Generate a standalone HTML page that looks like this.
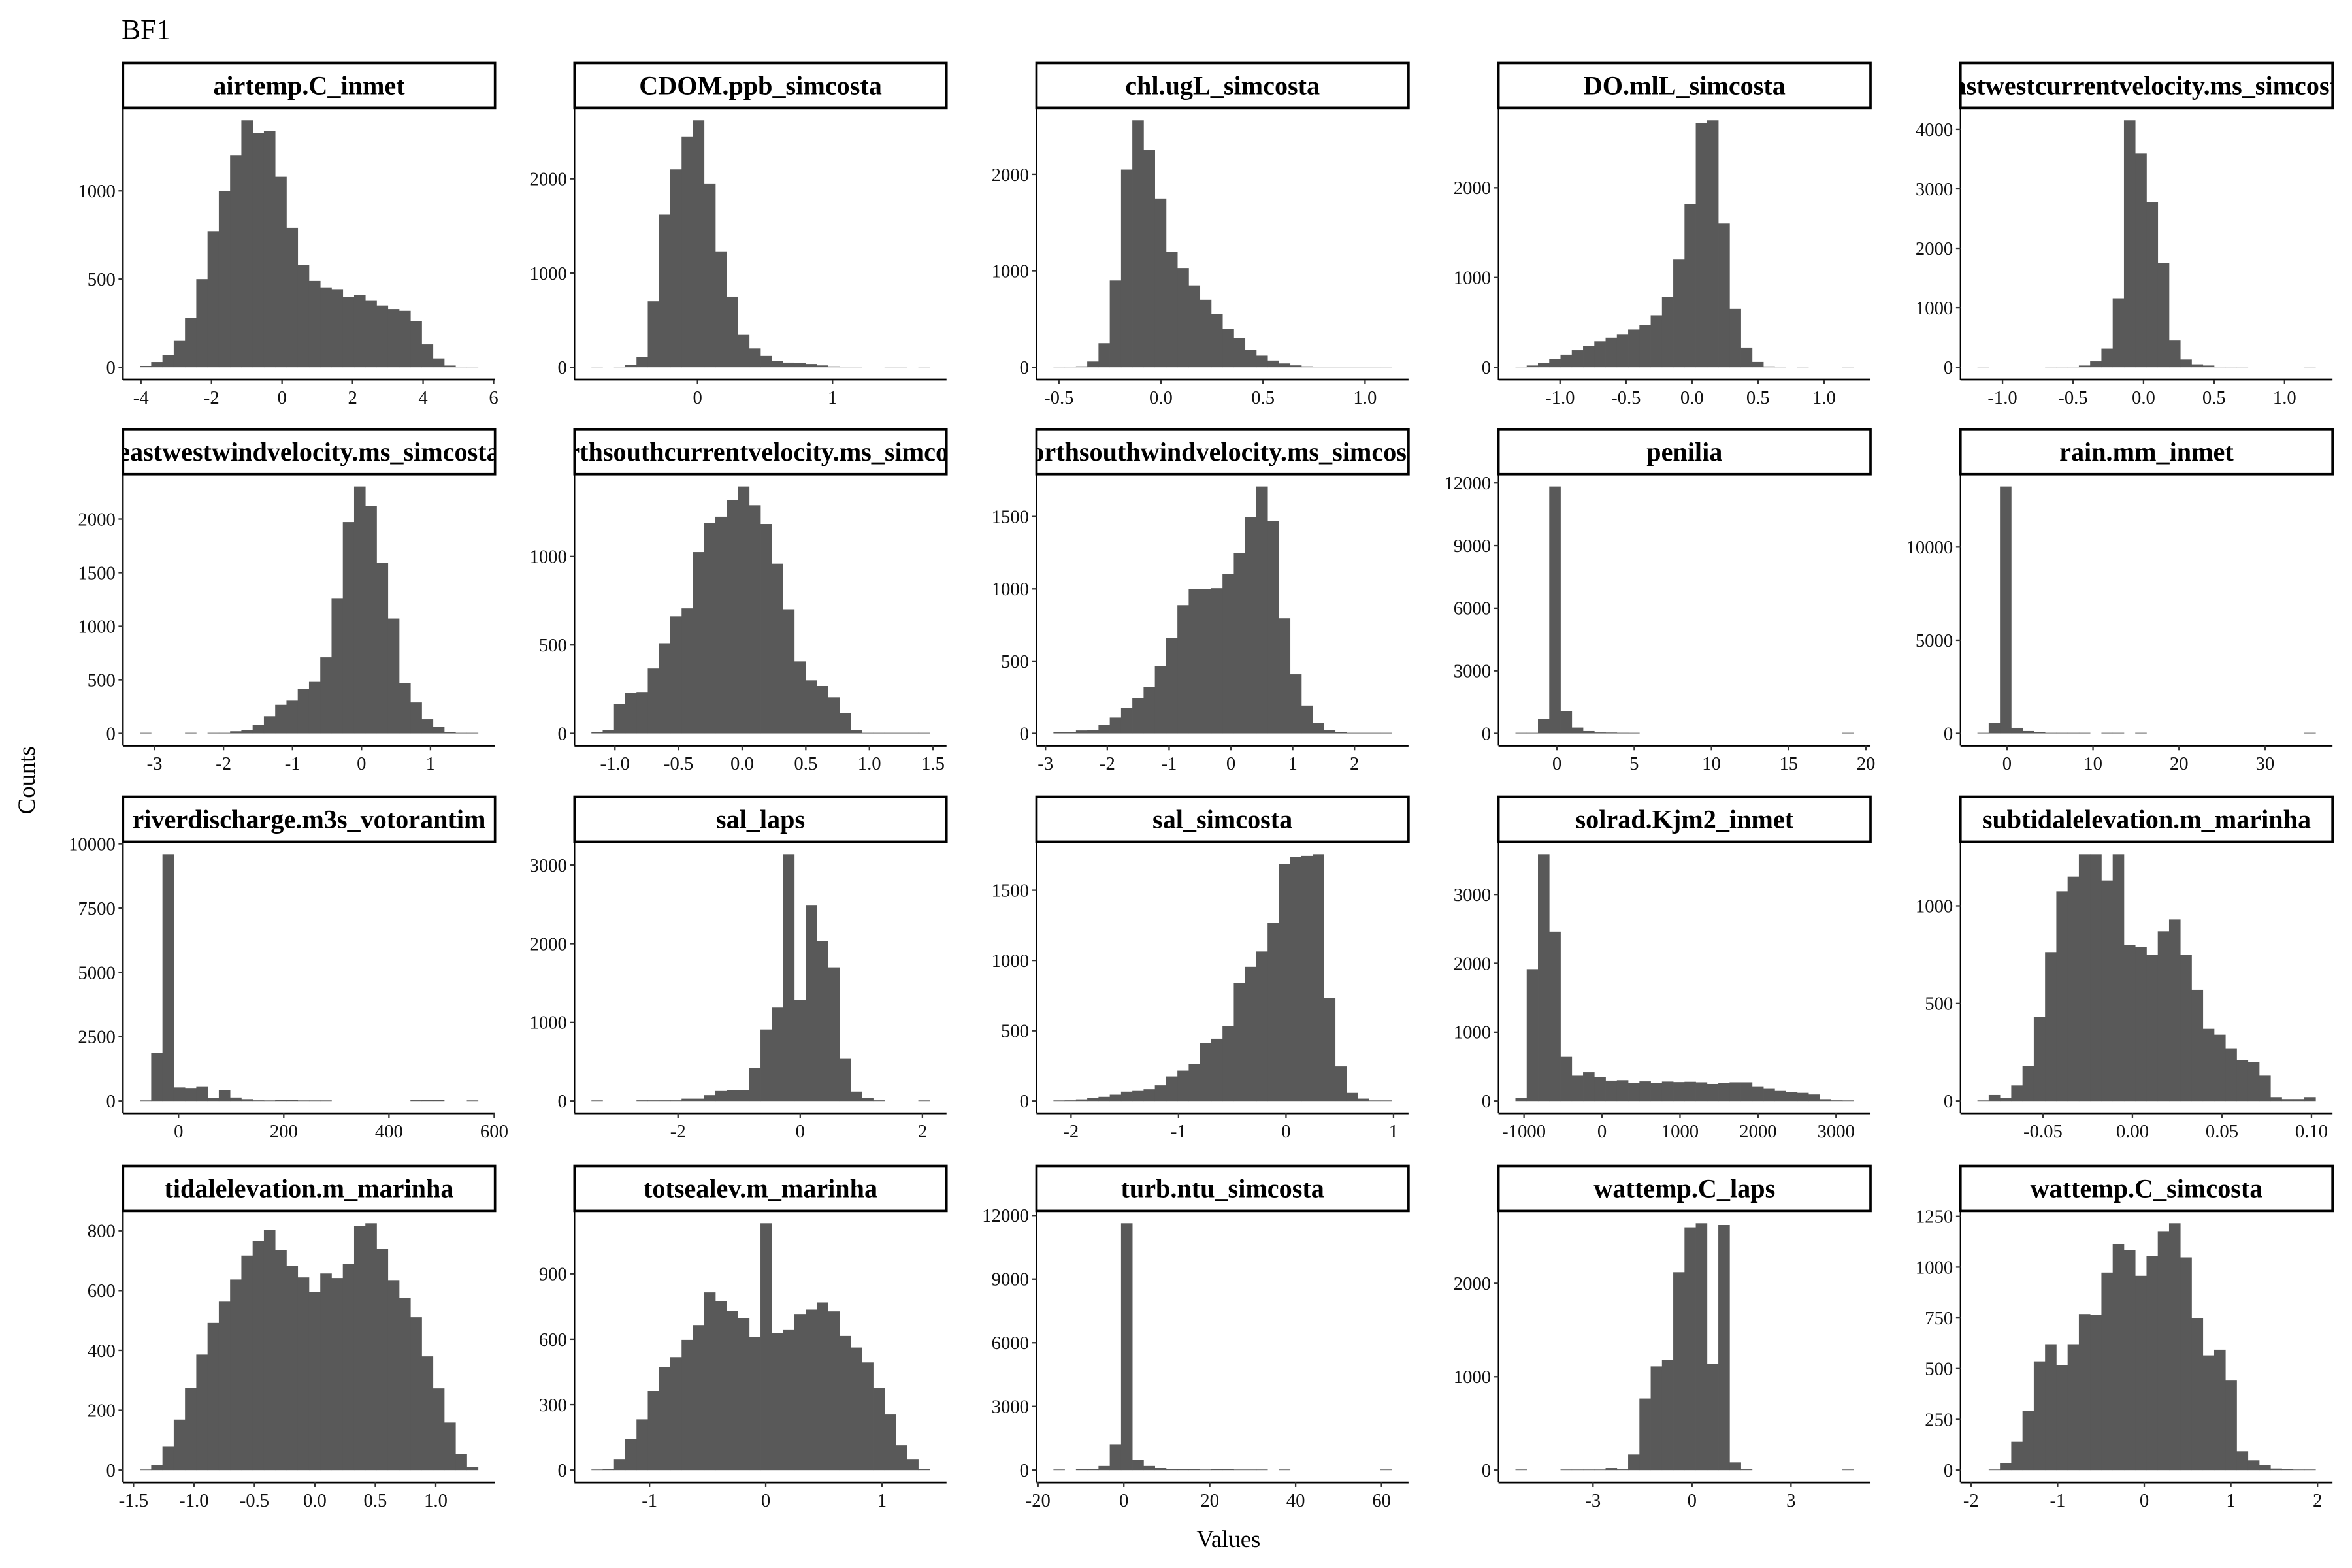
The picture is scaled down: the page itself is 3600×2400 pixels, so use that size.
<!DOCTYPE html>
<html><head><meta charset="utf-8">
<style>
html,body{margin:0;padding:0;background:#fff;}
svg{display:block;}
text{font-family:"Liberation Serif",serif;}
</style></head>
<body>
<svg id="chart" xmlns="http://www.w3.org/2000/svg" width="3600" height="2400" viewBox="0 0 1568 1045" preserveAspectRatio="none">
<rect x="0" y="0" width="1568" height="1045" fill="#fff"/>
<text x="81" y="26" font-size="19">BF1</text>
<text x="0" y="0" font-size="16" text-anchor="middle" transform="translate(23,520) rotate(-90)">Counts</text>
<text x="819" y="1031" font-size="16" text-anchor="middle">Values</text>
<g id="panels"></g>
</svg>
<script>
const panelTitles = ["airtemp.C_inmet","CDOM.ppb_simcosta","chl.ugL_simcosta","DO.mlL_simcosta","eastwestcurrentvelocity.ms_simcosta",
"eastwestwindvelocity.ms_simcosta","northsouthcurrentvelocity.ms_simcosta","northsouthwindvelocity.ms_simcosta","penilia","rain.mm_inmet",
"riverdischarge.m3s_votorantim","sal_laps","sal_simcosta","solrad.Kjm2_inmet","subtidalelevation.m_marinha",
"tidalelevation.m_marinha","totsealev.m_marinha","turb.ntu_simcosta","wattemp.C_laps","wattemp.C_simcosta"];

const dataMin = [-4.03,-0.786,-0.527,-1.338,-1.178, -3.212,-1.185,-2.872,-2.69,-3.44, -73.4,-3.417,-2.164,-1110,-0.0866, -1.447,-1.500,-16.41,-5.352,-1.926];
const dataMax = [5.56,1.719,1.130,1.224,1.220, 1.690,1.473,2.600,19.2,35.88, 569.4,2.117,0.982,3225,0.1023, 1.350,1.410,62.35,4.897,1.978];

const binCounts = [
[8,30,70,150,280,500,770,1000,1200,1400,1330,1340,1080,790,580,490,450,440,400,410,380,350,330,320,260,130,50,10,3,1],
[2,0,5,25,110,700,1620,2100,2450,2620,1950,1230,750,350,200,120,70,50,45,35,20,10,5,3,0,0,2,2,0,1],
[3,5,10,60,250,900,2050,2560,2250,1750,1200,1030,850,700,550,400,300,180,120,70,40,20,10,5,3,2,2,1,1,1],
[5,20,50,90,140,190,240,290,330,370,420,470,580,780,1200,1820,2720,2750,1600,650,220,60,10,5,0,2,0,0,0,1],
[1,0,0,0,0,0,1,3,10,30,100,314,1160,4150,3600,2780,1750,450,130,50,30,10,5,2,0,0,0,0,0,1],
[1,0,0,0,2,0,3,5,20,33,77,160,267,306,413,481,710,1257,1972,2304,2120,1593,1073,470,289,131,63,11,3,1],
[7,20,168,230,234,367,510,662,707,1025,1188,1225,1320,1396,1290,1184,960,702,407,300,268,204,113,19,3,3,3,3,3,1],
[8,8,20,24,60,109,178,243,320,465,660,887,1000,1000,1005,1105,1248,1494,1708,1470,797,409,193,71,24,8,3,3,3,3],
[5,20,675,11830,1057,280,112,45,40,30,20,0,0,0,0,0,0,0,0,0,0,0,0,0,0,0,0,0,0,1],
[1,554,13250,300,126,63,25,20,15,10,0,5,5,0,3,0,0,0,0,0,0,0,0,0,0,0,0,0,0,1],
[2,1872,9600,530,484,548,110,430,137,73,27,10,36,36,20,10,10,0,0,0,0,0,0,0,30,45,45,0,0,1],
[2,0,0,0,9,9,9,9,30,30,75,128,140,140,424,910,1188,3140,1284,2493,2030,1700,537,120,40,9,0,0,0,1],
[2,5,12,20,30,45,67,72,84,112,175,217,264,412,443,534,838,955,1064,1266,1687,1737,1745,1757,735,247,58,17,3,1],
[44,1916,3587,2462,641,368,419,348,297,303,266,286,266,283,276,280,273,249,266,273,273,205,177,147,130,119,95,27,10,2],
[1,31,15,80,179,432,763,1074,1150,1265,1265,1130,1265,800,790,750,870,930,750,570,370,340,270,210,200,130,20,10,10,20],
[2,17,78,169,274,386,492,563,637,717,765,802,735,683,644,596,657,642,689,815,825,739,635,576,511,380,273,159,54,11],
[2,6,51,142,233,363,473,518,597,665,815,775,730,698,611,1132,629,645,716,736,769,728,615,562,494,375,255,114,51,6],
[1,0,37,60,196,1224,11630,490,196,98,60,50,50,25,50,50,25,25,12,0,25,0,0,0,0,0,0,0,0,1],
[1,0,0,0,5,5,5,5,22,8,167,767,1111,1183,2119,2600,2644,1139,2625,83,8,0,0,0,0,0,0,0,0,1],
[0,3,33,140,293,536,620,517,620,769,765,973,1114,1084,957,1054,1177,1216,1048,750,565,593,441,93,48,26,8,5,1,1]
];

const xTickLabels = [
["-4","-2","0","2","4","6"],["0","1"],["-0.5","0.0","0.5","1.0"],["-1.0","-0.5","0.0","0.5","1.0"],["-1.0","-0.5","0.0","0.5","1.0"],
["-3","-2","-1","0","1"],["-1.0","-0.5","0.0","0.5","1.0","1.5"],["-3","-2","-1","0","1","2"],["0","5","10","15","20"],["0","10","20","30"],
["0","200","400","600"],["-2","0","2"],["-2","-1","0","1"],["-1000","0","1000","2000","3000"],["-0.05","0.00","0.05","0.10"],
["-1.5","-1.0","-0.5","0.0","0.5","1.0"],["-1","0","1"],["-20","0","20","40","60"],["-3","0","3"],["-2","-1","0","1","2"]
];

const yTickValues = [
[0,500,1000],[0,1000,2000],[0,1000,2000],[0,1000,2000],[0,1000,2000,3000,4000],
[0,500,1000,1500,2000],[0,500,1000],[0,500,1000,1500],[0,3000,6000,9000,12000],[0,5000,10000],
[0,2500,5000,7500,10000],[0,1000,2000,3000],[0,500,1000,1500],[0,1000,2000,3000],[0,500,1000],
[0,200,400,600,800],[0,300,600,900],[0,3000,6000,9000,12000],[0,1000,2000],[0,250,500,750,1000,1250]
];

const NS = "http://www.w3.org/2000/svg";
const colLeft = [82,383,691,999,1307];
const stripTop = [42,286,531,777];
const PW = 248, SH = 30, PH = 181;
const root = document.getElementById('panels');
function mk(tag, attrs, parent){
  const e = document.createElementNS(NS, tag);
  for (const k in attrs) e.setAttribute(k, attrs[k]);
  parent.appendChild(e);
  return e;
}
const defs = mk('defs', {}, root);

for (let p = 0; p < 20; p++) {
  const L = colLeft[p % 5], ST = stripTop[Math.floor(p / 5)];
  const top = ST + SH, bottom = top + PH;
  const g = mk('g', {}, root);
  
  

  const cp = mk('clipPath', {id: 'clip' + p}, defs);
  mk('rect', {x: L, y: ST, width: PW, height: SH}, cp);
  const sr = mk('rect', {x: L, y: ST, width: PW, height: SH, fill: '#fff', stroke: '#000', 'stroke-width': 1.6}, g);
  
  
  const st = mk('text', {x: L + PW / 2, y: ST + 21, 'font-size': 17.5, 'font-weight': 'bold', 'text-anchor': 'middle', 'clip-path': 'url(#clip' + p + ')'}, g);
  st.textContent = panelTitles[p];
  
  

  const counts = binCounts[p];
  const n = counts.length;
  const w = (dataMax[p] - dataMin[p]) / n;
  const d0 = dataMin[p] - 1.5 * w, d1 = dataMax[p] + 1.5 * w;
  const xs = v => L + (v - d0) / (d1 - d0) * PW;
  const cmax = Math.max(...counts);
  const y0 = -0.05 * cmax, y1 = 1.05 * cmax;
  const ys = v => bottom - (v - y0) / (y1 - y0) * PH;

  for (let i = 0; i < n; i++) {
    const a = dataMin[p] + i * w;
    const bx = xs(a), bw = xs(a + w) - bx;
    const h = Math.max(ys(0) - ys(counts[i]), counts[i] > 0 ? 0.4 : 0);
    const r = mk('rect', {x: bx, y: ys(0) - h, width: bw + 0.15, height: h, fill: '#595959'}, g);
    
    
  }

  const ya = mk('line', {x1: L, y1: top, x2: L, y2: bottom, stroke: '#000', 'stroke-width': 1}, g);
  
  
  const xa = mk('line', {x1: L, y1: bottom, x2: L + PW, y2: bottom, stroke: '#000', 'stroke-width': 1.2}, g);
  
  

  yTickValues[p].forEach(v => {
    const y = ys(v);
    mk('line', {x1: L - 3, y1: y, x2: L, y2: y, stroke: '#333', 'stroke-width': 1}, g);
    const t = mk('text', {x: L - 5, y: y + 4.3, 'font-size': 12.5, 'text-anchor': 'end', fill: '#111'}, g);
    t.textContent = v;
    
    
  });
  xTickLabels[p].forEach(s => {
    const x = xs(parseFloat(s));
    mk('line', {x1: x, y1: bottom, x2: x, y2: bottom + 3, stroke: '#333', 'stroke-width': 1}, g);
    const t = mk('text', {x: x, y: bottom + 16, 'font-size': 12.5, 'text-anchor': 'middle', fill: '#111'}, g);
    t.textContent = s;
    
    
  });
}
</script>
</body></html>
